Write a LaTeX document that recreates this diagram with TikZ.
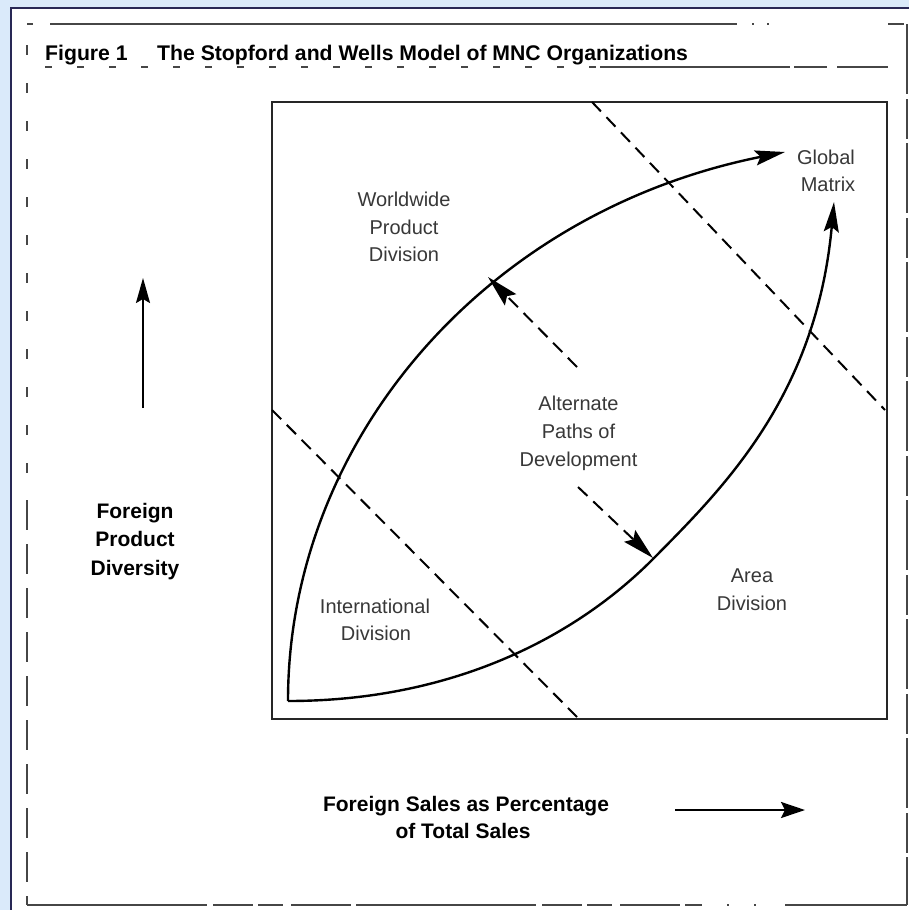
\documentclass[tikz,border=0pt]{standalone}
\usepackage{fontspec}
\setmainfont{Liberation Sans}
\usetikzlibrary{arrows.meta}
\definecolor{bandblue}{RGB}{218,234,250}
\definecolor{navy}{RGB}{40,40,85}
\definecolor{framegray}{RGB}{70,70,70}
\tikzset{
  curveline/.style={line width=2.4pt, black, line join=miter},
  bigtip/.style={-{Stealth[length=30pt,width=15pt,inset=5pt]}},
  dashline/.style={line width=2pt, black, dash pattern=on 13pt off 8pt},
  lbl/.style={font=\fontsize{20}{24}\selectfont, text=black!78, inner sep=0pt, anchor=base},
  blbl/.style={font=\fontsize{21}{25}\selectfont\bfseries, inner sep=0pt, anchor=base},
  tlbl/.style={font=\fontsize{21.2}{25}\selectfont\bfseries, inner sep=0pt, anchor=base west},
  frameline/.style={line width=1.5pt, framegray},
}
\begin{document}
\begin{tikzpicture}[x=1pt,y=-1pt]
\useasboundingbox (0,0) rectangle (909,910);
% background and window band
\fill[white] (0,0) rectangle (909,910);
\fill[bandblue] (0,0) rectangle (909,7);
\fill[bandblue] (0,0) rectangle (10,910);
\draw[navy, line width=2pt] (11,910) -- (11,8) -- (909,8);

% page frame (broken scan lines)
\draw[frameline] (27,24) -- (33,24);
\draw[frameline] (50,24) -- (737,24);
\draw[frameline, dash pattern=on 2pt off 13pt] (752,24) -- (775,24);
\draw[frameline] (888,24) -- (904,24);
\draw[frameline, dash pattern=on 70pt off 5pt on 40pt off 4pt] (907,24) -- (907,905);
\draw[frameline, dash pattern=on 180pt off 6pt on 40pt off 5pt on 25pt off 8pt on 60pt off 5pt] (27,905) -- (700,905);
\draw[frameline, dash pattern=on 2pt off 25pt] (700,905) -- (780,905);
\draw[frameline] (785,905) -- (907,905);
\draw[frameline, dash pattern=on 10pt off 28pt] (27,45) -- (27,500);
\draw[frameline, dash pattern=on 30pt off 14pt] (27,500) -- (27,905);
% title underline
\draw[line width=1.3pt, framegray, dash pattern=on 7pt off 25pt] (45,67) -- (600,67);
\draw[line width=1.3pt, framegray, dash pattern=on 190pt off 4pt on 33pt off 10pt] (600,67) -- (888,67);

% title
\node[tlbl] (fig) at (45,60) {Figure 1};
\node[tlbl] (title) at (157,60) {The Stopford and Wells Model of MNC Organizations};

% inner box
\node[draw=black!85, line width=1.5pt, minimum width=615pt, minimum height=617pt, inner sep=0pt, anchor=north west] (box) at (271,101) {};

% dashed boundary lines
\coordinate (d1a) at (272,410);
\coordinate (d1b) at (577,717);
\coordinate (d2a) at (592,102);
\coordinate (d2b) at (885,410);
\draw[dashline] (d1a) -- (d1b);
\draw[dashline] (d2a) -- (d2b);

% main curves
\coordinate (origin) at (288,701);
\coordinate (gmtip) at (785,152);
\coordinate (mid) at (654,558);
\coordinate (adtip) at (834,202);
\draw[curveline, bigtip] (origin) .. controls (288,441) and (485,212) .. (gmtip);
\draw[curveline, bigtip] (origin) .. controls (450,701) and (574,639) .. (mid)
      .. controls (722.5,488.6) and (816.2,396.7) .. (adtip);

% alternate path arrows
\coordinate (ap1s) at (577,367);
\coordinate (ap1e) at (488,277);
\coordinate (ap2s) at (578,487);
\coordinate (ap2e) at (653,558);
\draw[dashline, -{Stealth[length=32pt,width=16pt,inset=5pt]}] (ap1s) -- (ap1e);
\draw[dashline, -{Stealth[length=32pt,width=16pt,inset=5pt]}] (ap2s) -- (ap2e);

% region labels
\node[lbl] (wpd1) at (404,206.7) {Worldwide};
\node[lbl] (wpd2) at (404,234) {Product};
\node[lbl] (wpd3) at (404,261.5) {Division};
\node[lbl] (gm1) at (826,164) {Global};
\node[lbl] (gm2) at (828,191.7) {Matrix};
\node[lbl] (alt1) at (578.5,410) {Alternate};
\node[lbl] (alt2) at (578.5,438) {Paths of};
\node[lbl] (alt3) at (578.5,466) {Development};
\node[lbl] (int1) at (375,613) {International};
\node[lbl] (int2) at (376,640) {Division};
\node[lbl] (ad1) at (752,582) {Area};
\node[lbl] (ad2) at (752,610) {Division};

% axis labels and arrows
\node[blbl] (fpd1) at (135,518) {Foreign};
\node[blbl] (fpd2) at (135,546.5) {Product};
\node[blbl] (fpd3) at (135,575) {Diversity};
\coordinate (ya0) at (143,408);
\coordinate (ya1) at (143,278);
\draw[line width=2pt, -{Stealth[length=25pt,width=14pt,inset=4pt]}] (ya0) -- (ya1);

\node[blbl] (fs1) at (466,811.5) {Foreign Sales as Percentage};
\node[blbl] (fs2) at (463,838) {of Total Sales};
\coordinate (xa0) at (675,810);
\coordinate (xa1) at (805,810);
\draw[line width=2.5pt, -{Stealth[length=24pt,width=16pt,inset=4pt]}] (xa0) -- (xa1);
\end{tikzpicture}
\end{document}
